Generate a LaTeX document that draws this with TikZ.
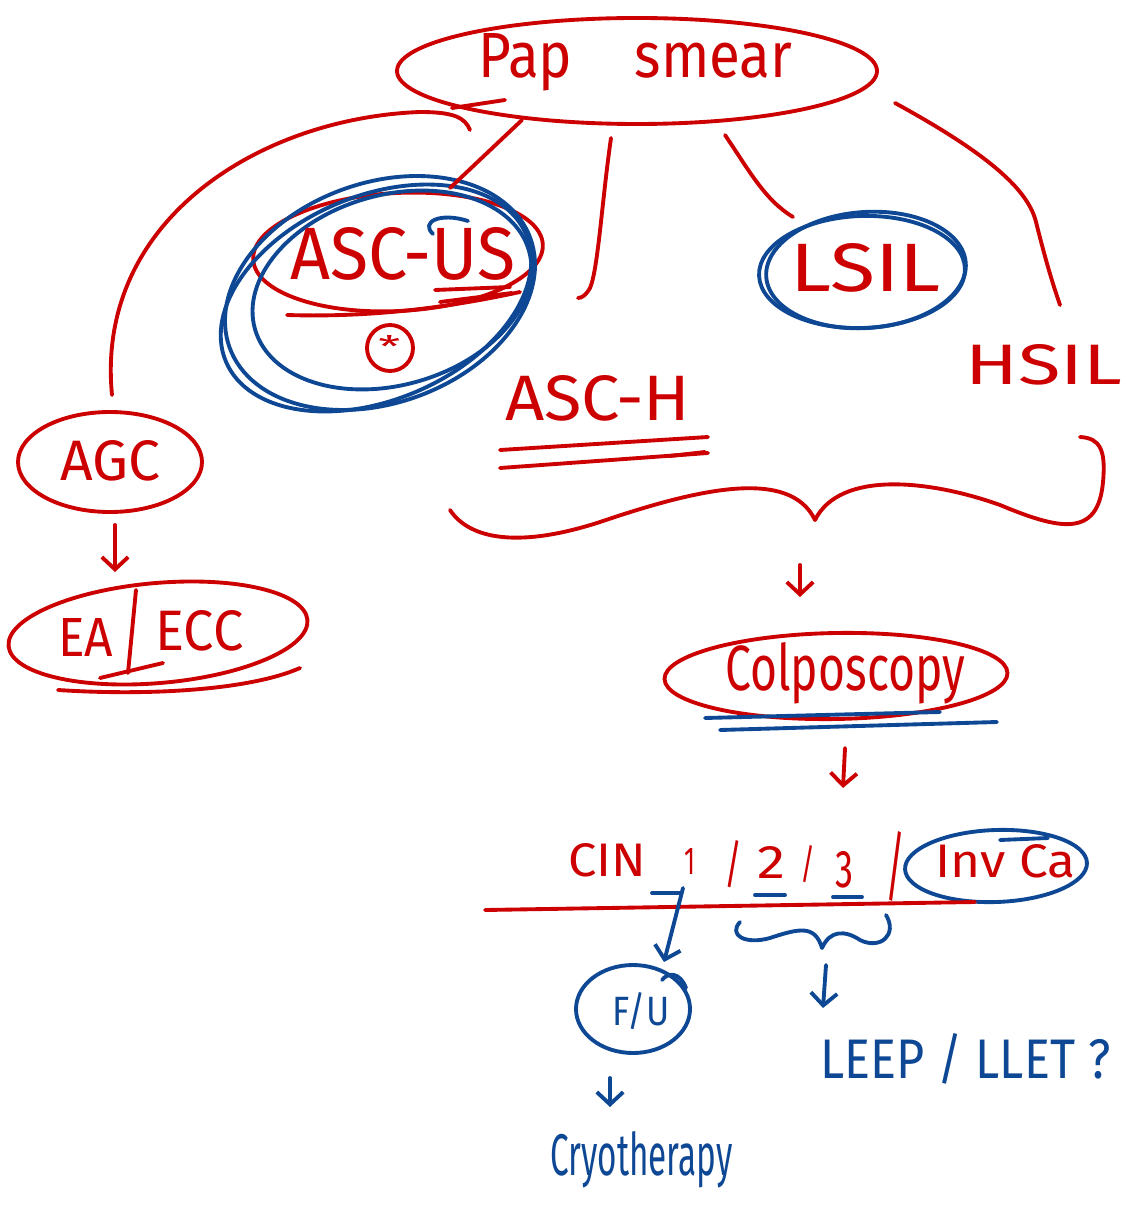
\documentclass[tikz,border=0pt]{standalone}
\usepackage{fontspec}
\setmainfont{Fira Sans}
\usepackage{graphicx}
\usetikzlibrary{arrows.meta,shapes.geometric}
\newdimen\pxu \pxu=0.02cm
% text squeezed into a box of given width and height (in drawing units)
\newcommand\hw[3]{\resizebox{#1\pxu}{#2\pxu}{#3}}
\definecolor{pen}{RGB}{204,0,0}
\definecolor{ink}{RGB}{14,72,148}
\begin{document}
\begin{tikzpicture}[x=0.02cm,y=-0.02cm,
  redpen/.style={draw=pen, line width=2.2pt, line cap=round, line join=round},
  bluepen/.style={draw=ink, line width=2.2pt, line cap=round, line join=round},
  oval/.style={ellipse, inner sep=0pt, line width=2.2pt},
  redtxt/.style={text=pen, inner sep=0pt, anchor=base west},
  bluetxt/.style={text=ink, inner sep=0pt, anchor=base west},
  tip/.style={-{Straight Barb[length=7pt,width=15pt,line width=2.2pt]}}]
\useasboundingbox[fill=white] (0,0) rectangle (1130,1219);

% ---------- ovals ----------
\node[oval, draw=pen, minimum width=480\pxu, minimum height=106\pxu] (papE) at (637,71) {};
\node[oval, draw=pen, minimum width=290\pxu, minimum height=118\pxu, rotate=3] (ascusE) at (398,252) {};
\node[oval, draw=ink, minimum width=320\pxu, minimum height=220\pxu, rotate=20] (ascusB1) at (380,293) {};
\node[oval, draw=ink, minimum width=326\pxu, minimum height=204\pxu, rotate=23] (ascusB2) at (376,298) {};
\node[oval, draw=ink, minimum width=285\pxu, minimum height=190\pxu, rotate=16] (ascusB3) at (392,290) {};
\node[oval, draw=pen, minimum width=46\pxu, minimum height=46\pxu] (starE) at (390,348) {};
\node[oval, draw=ink, minimum width=206\pxu, minimum height=112\pxu, rotate=2] (lsilE) at (862,272) {};
\node[oval, draw=ink, minimum width=200\pxu, minimum height=116\pxu, rotate=4] (lsilE2) at (866,270) {};
\node[oval, draw=pen, minimum width=184\pxu, minimum height=100\pxu] (agcE) at (110,462) {};
\node[oval, draw=pen, minimum width=300\pxu, minimum height=100\pxu, rotate=5] (eaE) at (158,633) {};
\node[oval, draw=pen, minimum width=343\pxu, minimum height=86\pxu, rotate=1] (colpE) at (836,676) {};
\node[oval, draw=ink, minimum width=182\pxu, minimum height=72\pxu, rotate=2] (invE) at (996,866) {};
\node[oval, draw=ink, minimum width=114\pxu, minimum height=88\pxu] (fuE) at (633,1009) {};

% ---------- texts ----------
\node[redtxt] (pap) at (478,78) {\hw{314}{44}{Pap\hspace{1.1em}smear}};
\node[redtxt] (ascus) at (290,280) {\hw{225}{52}{ASC-US}};
\node[redtxt] (star) at (378,358) {\hw{22}{22}{*}};
\node[redtxt] (asch) at (505,420) {\hw{185}{45}{ASC-H}};
\node[redtxt] (lsil) at (790,292) {\hw{150}{48}{LSIL}};
\node[redtxt] (hsil) at (965,385) {\hw{157}{40}{HSIL}};
\node[redtxt] (agc) at (60,480) {\hw{100}{40}{AGC}};
\node[redtxt] (ea) at (58,656) {\hw{55}{38}{EA}};
\node[redtxt] (ecc) at (155,650) {\hw{88}{40}{ECC}};
\node[redtxt] (colp) at (725,690) {\hw{240}{48}{Colposcopy}};
\node[redtxt] (cin) at (568,876) {\hw{78}{33}{CIN}};
\node[redtxt] (g1) at (684,874) {\hw{11}{26}{1}};
\node[redtxt] (sl1) at (724,882) {\hw{18}{42}{/}};
\node[redtxt] (g2) at (757,878) {\hw{28}{32}{2}};
\node[redtxt] (sl2) at (800,878) {\hw{15}{33}{/}};
\node[redtxt] (g3) at (835,887) {\hw{18}{36}{3}};
\node[redtxt] (sl3) at (885,893) {\hw{20}{62}{/}};
\node[redtxt] (inv) at (935,877) {\hw{140}{33}{Inv Ca}};
\node[bluetxt] (fu) at (612,1025) {\hw{57}{33}{F/U}};
\node[bluetxt] (leep) at (820,1078) {\hw{290}{45}{LEEP / LLET ?}};
\node[bluetxt] (cryo) at (550,1175) {\hw{182}{44}{Cryotherapy}};

% ---------- branches out of the smear ----------
\coordinate (pAGC) at (470,130);   \coordinate (tAGC) at (112,395);
\coordinate (pUS)  at (522,120);   \coordinate (tUS)  at (450,188);
\coordinate (pH)   at (611,138);   \coordinate (tH)   at (578,298);
\coordinate (pL)   at (725,135);   \coordinate (tL)   at (793,217);
\coordinate (pHS)  at (895,103);   \coordinate (tHS)  at (1060,305);
\draw[redpen] (pAGC) .. controls (465,118) and (455,112) .. (420,112)
  .. controls (260,118) and (95,220) .. (tAGC);
\draw[redpen] (pUS) -- (tUS);
\draw[redpen] (pH) .. controls (602,200) and (598,270) .. (590,288) .. controls (586,295) and (582,298) .. (tH);
\draw[redpen] (pL) .. controls (750,172) and (765,200) .. (tL);
\draw[redpen] (pHS) .. controls (990,155) and (1028,190) .. (1036,222)
  .. controls (1045,258) and (1052,282) .. (tHS);

% strokes under the words
\draw[redpen] (452,108) -- (505,100);
\draw[redpen] (287,315) .. controls (380,318) and (460,305) .. (520,292);
\draw[redpen] (435,290) -- (510,287);
\draw[redpen] (440,302) -- (512,293);
\draw[bluepen] (433,234) .. controls (420,222) and (440,212) .. (468,221);
\draw[redpen] (500,450) -- (708,437);
\draw[redpen] (500,468) -- (708,453);
\draw[redpen] (670,456) -- (705,452);
\draw[redpen] (136,590) -- (128,673);
\draw[redpen] (100,678) -- (163,663);
\draw[redpen] (58,690) .. controls (150,696) and (250,690) .. (300,668);
\draw[bluepen] (705,718) -- (940,712);
\draw[bluepen] (720,730) -- (997,722);

% ---------- AGC route ----------
\coordinate (a1) at (115,525); \coordinate (a2) at (115,572);
\draw[redpen, tip] (a1) -- (a2);

% ---------- brace gathering ASC-H, LSIL, HSIL ----------
\coordinate (bL) at (450,510); \coordinate (bM) at (815,520); \coordinate (bR) at (1080,437);
\draw[redpen] (bL) .. controls (470,540) and (520,548) .. (600,522)
  .. controls (700,488) and (790,468) .. (bM)
  .. controls (840,470) and (930,480) .. (1000,505)
  .. controls (1060,530) and (1098,538) .. (1103,482)
  .. controls (1106,450) and (1100,438) .. (bR);
\coordinate (c1) at (800,565); \coordinate (c2) at (800,597);
\draw[redpen, tip] (c1) -- (c2);
\coordinate (d1) at (845,748); \coordinate (d2) at (843,788);
\draw[redpen, tip] (d1) -- (d2);

% ---------- CIN grades ----------
\coordinate (lineL) at (485,910); \coordinate (lineR) at (975,902);
\draw[redpen] (lineL) -- (lineR);
\draw[bluepen] (652,893) -- (680,893);
\draw[bluepen] (755,895) -- (785,895);
\draw[bluepen] (833,897) -- (862,897);
\draw[bluepen] (1000,840) -- (1048,838);
\coordinate (e1) at (683,888); \coordinate (e2) at (664,962);
\draw[bluepen, tip] (e1) -- (e2);
\draw[bluepen] (662,980) .. controls (668,972) and (680,972) .. (686,988);

% brace over grades 2 and 3
\coordinate (fL) at (740,922); \coordinate (fM) at (822,948); \coordinate (fR) at (886,915);
\draw[bluepen] (fL) .. controls (728,935) and (745,945) .. (770,938)
  .. controls (800,928) and (815,925) .. (fM)
  .. controls (830,930) and (845,930) .. (860,940)
  .. controls (880,950) and (898,935) .. (fR);
\coordinate (g1a) at (826,965); \coordinate (g2a) at (823,1008);
\draw[bluepen, tip] (g1a) -- (g2a);
\coordinate (h1) at (610,1078); \coordinate (h2) at (610,1107);
\draw[bluepen, tip] (h1) -- (h2);
\end{tikzpicture}
\end{document}
